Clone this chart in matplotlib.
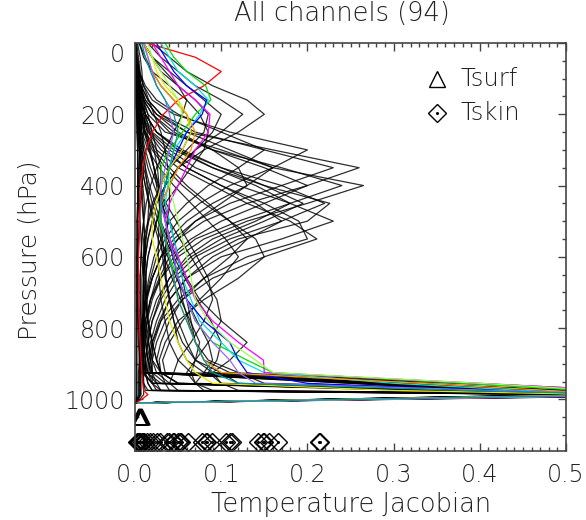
import matplotlib
matplotlib.use("Agg")
import matplotlib.pyplot as plt
from matplotlib import font_manager as fm
from matplotlib.ticker import MultipleLocator

# ---------------- data ----------------
levels = [1, 40, 80, 120, 160, 200, 250, 300, 350, 400, 450, 500, 550,
          600, 660, 720, 780, 840, 890, 925, 955, 975, 987, 1010]

colored_colors = ['#ff0000', '#00dd00', '#00e0e0', '#0000ff', '#ff00ff',
                  '#e6e600', '#ff9900', '#99ff55', '#9966ff', '#009999']
colored_profiles = [
    [.015, .07, .10, .08, .05, .033, .02, .013, .009, .007, .006, .005, .005, .004, .004, .004, .005, .006, .007, .008, .009, .01, .015, .002],
    [.035, .045, .06, .082, .088, .07, .055, .04, .03, .035, .03, .028, .035, .04, .05, .06, .07, .09, .13, .16, .38, .52, .60, .004],
    [.03, .04, .05, .07, .085, .075, .06, .045, .04, .038, .035, .04, .045, .05, .055, .065, .075, .10, .12, .15, .30, .45, .58, .004],
    [.025, .035, .045, .06, .083, .078, .06, .05, .04, .035, .03, .035, .04, .045, .05, .06, .08, .11, .12, .13, .20, .40, .56, .004],
    [.02, .03, .04, .05, .07, .087, .085, .07, .06, .05, .04, .035, .04, .05, .06, .07, .09, .12, .149, .15, .40, .56, .65, .004],
    [.01, .02, .025, .035, .05, .06, .065, .055, .04, .03, .025, .02, .02, .025, .03, .035, .04, .05, .06, .07, .09, .30, .55, .004],
    [.01, .015, .02, .03, .045, .06, .07, .065, .05, .04, .03, .03, .035, .04, .045, .05, .06, .07, .08, .10, .33, .48, .57, .004],
    [.015, .02, .03, .04, .05, .055, .05, .045, .04, .04, .045, .05, .055, .06, .065, .07, .085, .11, .14, .16, .40, .54, .62, .004],
    [.01, .015, .02, .025, .035, .04, .045, .04, .035, .03, .03, .035, .04, .045, .05, .06, .07, .09, .11, .12, .14, .42, .60, .004],
    [.008, .012, .018, .025, .035, .045, .05, .045, .04, .035, .03, .03, .035, .04, .045, .05, .06, .07, .08, .09, .12, .38, .58, .004],
]

upper_black = [
    [.02, .04, .06, .09, .13, .15, .12, .08, .05, .035, .025, .02, .015, .012, .01, .01, .01, .012, .015, .02, .28, .45, .55, .004],
    [.015, .03, .05, .07, .10, .125, .10, .07, .05, .035, .025, .02, .015, .012, .01, .01, .012, .015, .02, .03, .05, .35, .52, .004],
    [.01, .02, .04, .06, .08, .10, .09, .07, .05, .04, .03, .025, .02, .015, .012, .012, .015, .02, .025, .03, .30, .49, .60, .004],
    [.01, .02, .03, .05, .07, .085, .08, .06, .04, .03, .02, .015, .01, .01, .01, .01, .01, .01, .012, .015, .02, .03, .53, .004],
    [.005, .01, .02, .04, .06, .075, .085, .08, .065, .05, .035, .025, .02, .015, .012, .012, .015, .02, .02, .025, .04, .35, .55, .004],
    [.01, .02, .035, .05, .06, .055, .045, .035, .025, .018, .013, .01, .008, .007, .006, .006, .006, .007, .008, .01, .25, .41, .50, .003],
    [.005, .012, .02, .03, .045, .06, .065, .055, .04, .03, .022, .016, .012, .01, .008, .008, .008, .009, .01, .012, .015, .02, .54, .003],
]

mid_black = [
    [0, .001, .003, .006, .012, .025, .06, .16, .26, .20, .13, .08, .05, .03, .02, .012, .008, .006, .005, .004, .004, .004, .004, .001],
    [0, .001, .002, .004, .008, .015, .035, .10, .16, .265, .20, .13, .08, .05, .03, .018, .012, .008, .006, .005, .005, .005, .005, .001],
    [0, .001, .003, .007, .015, .03, .07, .15, .23, .17, .11, .07, .045, .03, .02, .013, .009, .007, .006, .006, .25, .40, .50, .003],
    [0, .001, .002, .005, .01, .02, .045, .09, .17, .24, .18, .12, .07, .045, .03, .02, .014, .01, .009, .01, .02, .35, .55, .003],
    [0, 0, .001, .003, .006, .012, .025, .05, .10, .17, .22, .17, .11, .07, .045, .03, .02, .015, .012, .012, .015, .02, .58, .003],
    [0, 0, .001, .002, .004, .008, .018, .04, .07, .12, .18, .23, .17, .10, .06, .04, .028, .02, .016, .018, .30, .49, .60, .003],
    [0, 0, .001, .003, .005, .01, .02, .045, .09, .15, .226, .20, .12, .08, .05, .035, .025, .018, .014, .014, .03, .34, .54, .003],
    [0, 0, .001, .002, .003, .006, .012, .025, .05, .09, .13, .18, .211, .15, .09, .055, .035, .025, .02, .02, .025, .03, .62, .003],
    [0, 0, .001, .002, .004, .007, .015, .03, .06, .10, .15, .19, .20, .13, .08, .05, .03, .02, .016, .016, .28, .46, .56, .003],
    [0, .001, .002, .003, .006, .012, .025, .055, .10, .15, .195, .15, .10, .065, .04, .025, .017, .012, .01, .01, .01, .01, .01, .002],
    [0, .001, .003, .007, .015, .03, .06, .11, .16, .13, .09, .06, .04, .03, .02, .014, .01, .008, .007, .007, .007, .007, .007, .001],
    [0, 0, .001, .002, .003, .005, .01, .02, .035, .055, .08, .11, .14, .15, .12, .08, .05, .035, .028, .03, .05, .38, .60, .003],
    [0, .001, .002, .005, .01, .02, .04, .09, .15, .20, .15, .10, .065, .04, .028, .018, .012, .009, .008, .008, .01, .015, .52, .003],
    [0, .001, .004, .01, .02, .045, .11, .20, .16, .11, .075, .05, .035, .025, .018, .012, .009, .007, .006, .006, .006, .006, .006, .001],
    [0, 0, .001, .003, .006, .012, .025, .05, .09, .14, .18, .14, .09, .06, .04, .028, .02, .015, .012, .012, .26, .43, .53, .003],
    [0, 0, .001, .002, .004, .008, .016, .035, .06, .10, .14, .17, .13, .09, .06, .04, .03, .022, .018, .02, .035, .36, .57, .003],
    [0, 0, .001, .002, .003, .006, .012, .022, .04, .06, .085, .11, .13, .11, .08, .055, .04, .03, .025, .03, .035, .04, .60, .003],
    [0, 0, 0, .001, .002, .004, .008, .015, .028, .045, .065, .085, .105, .12, .10, .075, .055, .04, .032, .035, .31, .51, .62, .003],
    [0, .002, .005, .012, .025, .05, .10, .15, .12, .085, .06, .04, .03, .022, .016, .012, .009, .007, .006, .006, .006, .006, .006, .001],
    [0, .001, .003, .006, .012, .025, .05, .09, .12, .13, .10, .07, .05, .035, .025, .018, .014, .011, .01, .01, .02, .32, .50, .003],
]

low_black = [
    [0, 0, 0, .001, .002, .003, .005, .008, .012, .017, .023, .03, .038, .048, .06, .075, .10, .13, .11, .09, .33, .49, .58, .003],
    [0, 0, 0, 0, .001, .002, .004, .007, .01, .015, .02, .027, .035, .045, .058, .072, .088, .10, .095, .085, .10, .39, .60, .003],
    [0, 0, 0, 0, .001, .002, .003, .005, .008, .012, .017, .023, .03, .038, .048, .06, .072, .085, .09, .08, .07, .08, .62, .003],
    [0, 0, 0, .001, .002, .003, .006, .01, .015, .022, .03, .04, .052, .065, .08, .095, .10, .085, .07, .065, .31, .47, .56, .003],
    [0, 0, 0, 0, .001, .002, .003, .005, .008, .012, .016, .021, .027, .034, .043, .053, .064, .075, .07, .06, .07, .35, .55, .003],
    [0, 0, 0, .001, .002, .004, .007, .012, .018, .026, .036, .048, .06, .072, .085, .09, .08, .065, .05, .045, .04, .05, .53, .003],
]

near_zero_black = [
    [.002, .004, .006, .005, .004, .003, .003, .003, .003, .003, .003, .003, .003, .003, .003, .003, .003, .004, .005, .006, .27, .45, .55, .002],
    [.001, .002, .003, .004, .006, .008, .007, .006, .005, .004, .004, .003, .003, .003, .003, .003, .004, .005, .006, .008, .02, .37, .58, .002],
    [0, .001, .002, .003, .004, .005, .006, .008, .01, .008, .006, .005, .004, .004, .004, .004, .005, .006, .007, .009, .01, .012, .52, .002],
    [0, 0, .001, .002, .003, .004, .005, .006, .007, .009, .011, .01, .008, .007, .006, .006, .007, .008, .01, .012, .29, .49, .60, .002],
    [0, 0, .001, .001, .002, .003, .004, .005, .006, .007, .008, .01, .012, .011, .01, .009, .009, .01, .012, .014, .025, .36, .57, .002],
    [.003, .006, .008, .009, .008, .007, .006, .005, .004, .003, .003, .002, .002, .002, .002, .002, .002, .002, .002, .002, .002, .002, .002, .001],
    [.001, .003, .005, .007, .01, .012, .01, .008, .006, .005, .004, .003, .003, .002, .002, .002, .002, .002, .002, .002, .002, .002, .002, .001],
    [0, 0, .001, .002, .003, .004, .005, .006, .007, .008, .009, .01, .011, .012, .013, .014, .015, .016, .018, .02, .02, .025, .59, .002],
    [0, .001, .002, .003, .004, .006, .008, .01, .012, .014, .016, .015, .013, .011, .01, .01, .011, .013, .015, .018, .30, .50, .61, .002],
    [0, 0, 0, .001, .001, .002, .002, .003, .003, .004, .005, .006, .007, .008, .01, .012, .015, .02, .025, .03, .05, .40, .63, .002],
]

window_black = [
    [0, .001, .003, .006, .01, .015, .02, .025, .03, .03, .03, .03, .03, .032, .035, .04, .045, .05, .06, .08, .37, .55, .65, .003],
    [0, .001, .002, .004, .007, .01, .014, .018, .022, .025, .028, .03, .032, .034, .036, .04, .05, .06, .07, .10, .12, .45, .66, .003],
    [0, .002, .005, .01, .016, .022, .03, .035, .038, .04, .04, .038, .036, .035, .036, .04, .045, .055, .07, .09, .10, .12, .63, .003],
    [0, 0, .001, .002, .004, .007, .011, .016, .022, .028, .034, .04, .045, .05, .055, .06, .065, .07, .08, .11, .39, .57, .68, .003],
    [0, .001, .002, .003, .005, .008, .012, .017, .022, .027, .032, .036, .04, .044, .05, .055, .062, .07, .085, .12, .15, .48, .70, .003],
    [0, .001, .003, .005, .008, .012, .017, .022, .026, .028, .029, .028, .027, .027, .028, .03, .035, .04, .05, .065, .07, .09, .60, .003],
]

tsurf_pressure = 1050
tsurf_values = [0.005, 0.006, 0.007, 0.008]
tskin_pressure = 1120
tskin_values = [0.002, 0.004, 0.005, 0.006, 0.008, 0.009, 0.011, 0.014, 0.017,
                0.021, 0.026, 0.029, 0.037, 0.040, 0.044, 0.045, 0.050, 0.052,
                0.053, 0.061, 0.078, 0.082, 0.084, 0.089, 0.106, 0.110, 0.113,
                0.143, 0.148, 0.150, 0.155, 0.166, 0.213, 0.215]

title_text = "All channels (94)"
xlabel_text = "Temperature Jacobian"
ylabel_text = "Pressure (hPa)"
xtick_vals = [0.0, 0.1, 0.2, 0.3, 0.4, 0.5]
xtick_labels = ["0.0", "0.1", "0.2", "0.3", "0.4", "0.5"]
ytick_vals = [0, 200, 400, 600, 800, 1000]
ytick_labels = ["0", "200", "400", "600", "800", "1000"]
legend_labels = ["Tsurf", "Tskin"]


# ---------------- font ----------------
def pick_light_font():
    wmap = {'thin': 100, 'extra light': 200, 'ultralight': 200, 'light': 300,
            'normal': 400, 'regular': 400}
    for fam in ['DejaVu Sans', 'Lato', 'Open Sans', 'Roboto', 'Inter', 'Noto Sans']:
        for f in fm.fontManager.ttflist:
            w = f.weight if isinstance(f.weight, int) else wmap.get(str(f.weight).lower(), 400)
            if f.name == fam and 200 <= w <= 300 and f.style == 'normal':
                return f.fname
    return None


light_path = pick_light_font()


def fp(size):
    if light_path:
        return fm.FontProperties(fname=light_path, size=size)
    return fm.FontProperties(family='DejaVu Sans', size=size)


TXT = '#222222'

# ---------------- figure ----------------
fig = plt.figure(figsize=(5.86, 5.20), dpi=100)
ax = fig.add_axes([135 / 586, 1 - 451 / 520, (566 - 135) / 586, (451 - 43) / 520])

for grp in (mid_black, low_black, near_zero_black, window_black, upper_black):
    for prof in grp:
        ax.plot(prof, levels, color='black', lw=0.9, alpha=0.82)
for prof, col in zip(colored_profiles, colored_colors):
    ax.plot(prof, levels, color=col, lw=0.9)

ax.plot(tsurf_values, [tsurf_pressure] * len(tsurf_values), linestyle='none',
        marker='^', markersize=11, markerfacecolor='none', markeredgecolor='black',
        markeredgewidth=1.1)
ax.plot(tskin_values, [tskin_pressure] * len(tskin_values), linestyle='none',
        marker='D', markersize=9.5, markerfacecolor='none', markeredgecolor='black',
        markeredgewidth=1.0, clip_on=False)
ax.plot(tskin_values, [tskin_pressure] * len(tskin_values), linestyle='none',
        marker='o', markersize=1.2, color='black')

# legend (drawn in data space like the original)
ax.plot([0.350], [101], marker='^', markersize=11, markerfacecolor='none',
        markeredgecolor='black', markeredgewidth=1.0, linestyle='none')
ax.plot([0.350], [196], marker='D', markersize=9.5, markerfacecolor='none',
        markeredgecolor='black', markeredgewidth=1.0, linestyle='none')
ax.plot([0.350], [196], marker='o', markersize=1.2, color='black', linestyle='none')
ax.text(0.378, 101, legend_labels[0], fontproperties=fp(17.5), color=TXT, va='center', ha='left')
ax.text(0.378, 196, legend_labels[1], fontproperties=fp(17.5), color=TXT, va='center', ha='left')

ax.set_xlim(0, 0.5)
ax.set_ylim(1145, 0)
ax.set_xticks(xtick_vals)
ax.set_xticklabels(xtick_labels, fontproperties=fp(17), color=TXT)
ax.set_yticks(ytick_vals)
ax.set_yticklabels(ytick_labels, fontproperties=fp(17), color=TXT)
ax.xaxis.set_minor_locator(MultipleLocator(0.01))
ax.yaxis.set_minor_locator(MultipleLocator(50))
ax.tick_params(which='both', direction='in', top=True, right=True, color='#444444', width=1.0)
ax.tick_params(which='major', length=6)
ax.tick_params(which='minor', length=3)
ax.tick_params(axis='x', which='major', pad=9)
ax.tick_params(axis='y', which='major', pad=7)
ax.yaxis.get_major_ticks()[0].label1.set_va('top')
for s in ax.spines.values():
    s.set_color('#444444')
    s.set_linewidth(1.2)

fig.text(342 / 586, 1 - 21 / 520, title_text, fontproperties=fp(18.5), color=TXT,
         ha='center', va='baseline')
fig.text(351 / 586, 1 - 512 / 520, xlabel_text, fontproperties=fp(18.5), color=TXT,
         ha='center', va='baseline')
fig.text(30 / 586, 1 - 250 / 520, ylabel_text, fontproperties=fp(18), color=TXT,
         ha='center', va='center', rotation=90)

fig.savefig('out.png', dpi=100)
